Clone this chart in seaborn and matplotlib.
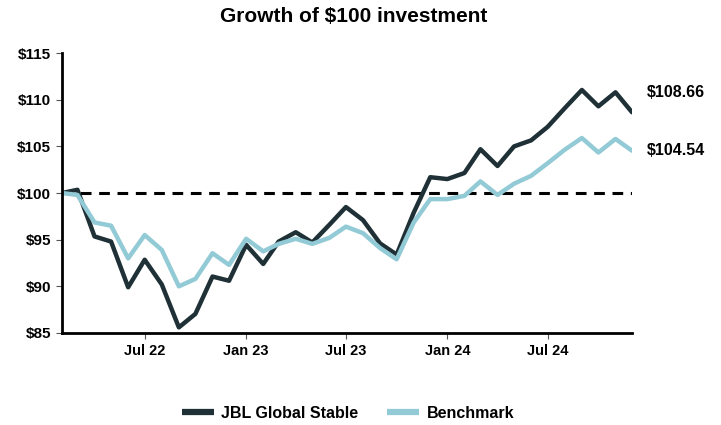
import matplotlib
matplotlib.use("Agg")
import matplotlib.pyplot as plt
import matplotlib.dates as mdates
import pandas as pd
import seaborn as sns

# monthly values, Feb 2022 - Dec 2024
months = pd.date_range("2022-02-01", periods=35, freq="MS")
jbl = [100.0, 100.35, 95.35, 94.8, 89.9, 92.85, 90.2, 85.6, 87.05, 91.05, 90.6, 94.45,
       92.4, 94.8, 95.8, 94.7, 96.6, 98.5, 97.1, 94.6, 93.4, 97.9, 101.7,
       101.5, 102.15, 104.7, 102.9, 105.0, 105.65, 107.1, 109.1, 111.05, 109.3, 110.8, 108.66]
bench = [100.0, 99.8, 96.85, 96.5, 93.0, 95.5, 93.9, 90.0, 90.8, 93.55, 92.3, 95.1,
         93.75, 94.55, 95.1, 94.55, 95.2, 96.4, 95.7, 94.1, 92.9, 96.85, 99.35,
         99.35, 99.7, 101.25, 99.8, 101.0, 101.85, 103.2, 104.65, 105.9, 104.35, 105.8, 104.54]
series_names = ["JBL Global Stable", "Benchmark"]
colors = ["#1f3136", "#92cad6"]

df = pd.DataFrame({"date": list(months) * 2,
                   "value": jbl + bench,
                   "series": [series_names[0]] * len(jbl) + [series_names[1]] * len(bench)})

sns.set_style("white")
plt.rcParams["font.family"] = ["Liberation Sans", "DejaVu Sans"]
plt.rcParams["font.weight"] = "bold"
plt.rcParams["text.color"] = "black"
plt.rcParams["xtick.labelcolor"] = "black"
plt.rcParams["ytick.labelcolor"] = "black"

fig = plt.figure(figsize=(7.21, 4.25), dpi=100)
ax = fig.add_axes([0.086, 0.2165, 0.7906, 0.6585])

sns.lineplot(data=df, x="date", y="value", hue="series", palette=colors,
             linewidth=3.2, ax=ax, legend=True)
ax.axhline(100, color="black", linestyle=(0, (3.5, 2.5)), linewidth=2.2, zorder=1)

ax.set_xlim(months[0], months[-1])
ax.set_ylim(85, 115)
ax.set_yticks(range(85, 116, 5))
ax.set_yticklabels([f"${v}" for v in range(85, 116, 5)], fontsize=11, fontweight="bold")
ax.xaxis.set_major_locator(mdates.MonthLocator(bymonth=[1, 7]))
ax.xaxis.set_major_formatter(mdates.DateFormatter("%b %y"))
for lab in ax.get_xticklabels():
    lab.set_fontsize(10.5)
    lab.set_fontweight("bold")
ax.set_xlabel("")
ax.set_ylabel("")
ax.tick_params(axis="both", length=4, width=0.8, color="#555555", labelcolor="black",
               pad=4, bottom=True, left=True)

for side in ["top", "right"]:
    ax.spines[side].set_visible(False)
for side in ["left", "bottom"]:
    ax.spines[side].set_color("black")
    ax.spines[side].set_linewidth(2)

ax.annotate(f"${jbl[-1]:.2f}", xy=(months[-1], jbl[-1]), xytext=(11, 14),
            textcoords="offset points", fontsize=11.5, fontweight="bold", va="center",
            color="black")
ax.annotate(f"${bench[-1]:.2f}", xy=(months[-1], bench[-1]), xytext=(11, 0),
            textcoords="offset points", fontsize=11.5, fontweight="bold", va="center",
            color="black")

fig.text(0.49, 0.96, "Growth of $100 investment", ha="center", va="center",
         fontsize=15, fontweight="bold", color="black")

handles, labels = ax.get_legend_handles_labels()
leg = ax.legend(handles, labels, loc="center", bbox_to_anchor=(0.483, 0.028),
                bbox_transform=fig.transFigure, ncol=2, frameon=False, fontsize=11.5,
                handlelength=2.0, columnspacing=1.8, handletextpad=0.5)
for line in leg.get_lines():
    line.set_linewidth(4.5)
    line.set_solid_capstyle("butt")
for t in leg.get_texts():
    t.set_color("black")

fig.savefig("out.png", dpi=100)
